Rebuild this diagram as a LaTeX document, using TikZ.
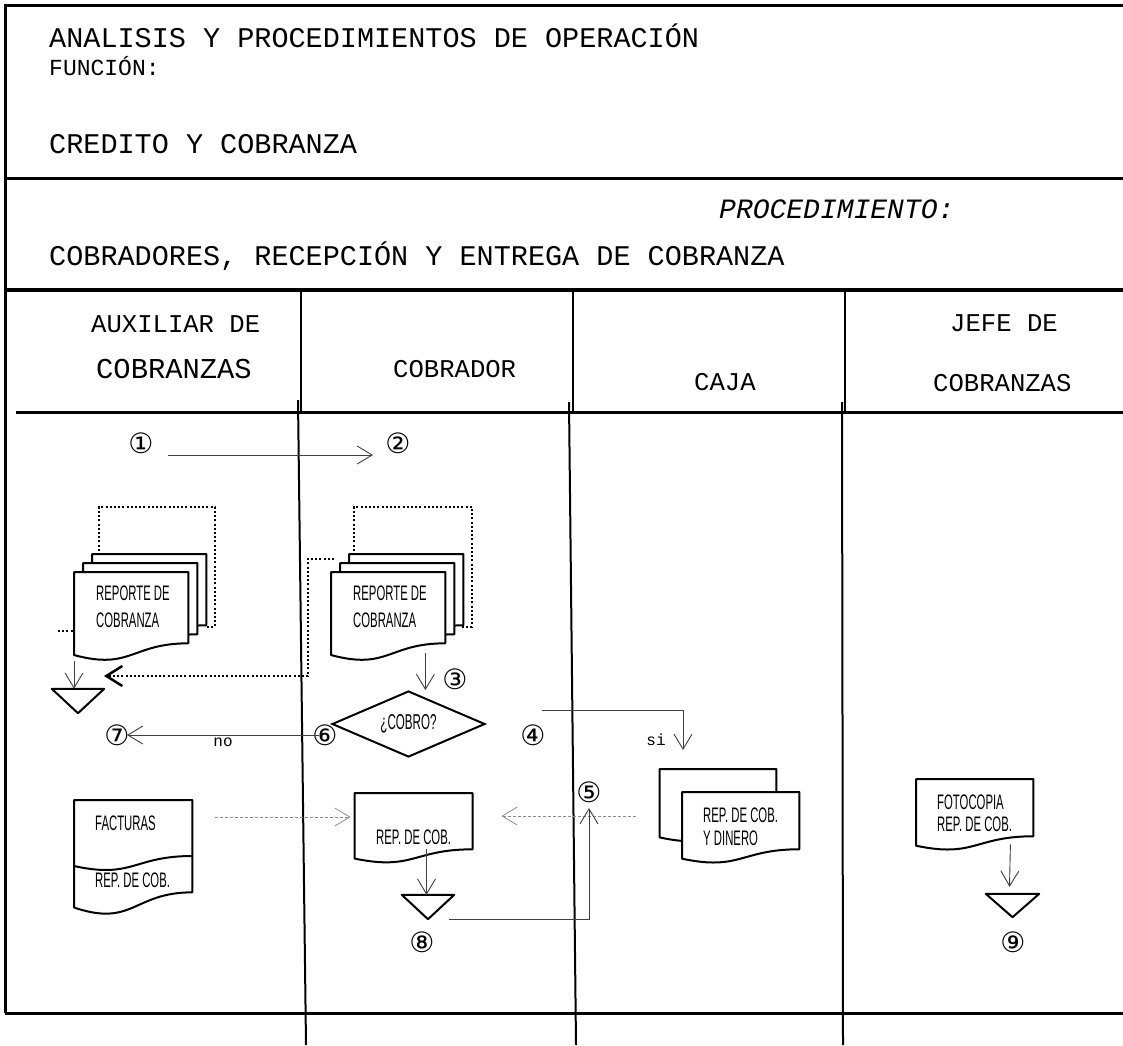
\documentclass[tikz,border=0pt]{standalone}
\usepackage{fontspec}
\usetikzlibrary{arrows.meta}
\usetikzlibrary{calc}
\usetikzlibrary{positioning}
\usetikzlibrary{shapes.geometric}
\newfontfamily\monofont{Liberation Mono}
\newfontfamily\narrowfont[FakeStretch=0.54]{Liberation Sans}
\newfontfamily\circfont{DejaVu Sans}
\tikzset{frameline/.style = {line width = 3pt}}
\tikzset{laneline/.style = {line width = 2pt}}
\tikzset{docbox/.style = {rectangle, inner sep = 0pt}}
\tikzset{docline/.style = {line width = 2pt, fill = white, line join = round}}
\tikzset{dotline/.style = {line width = 2pt, dash pattern = on 2pt off 2.2pt}}
\tikzset{doctxt/.style = {inner sep = 0pt, align = left, font = \narrowfont\fontsize{21}{27}\selectfont}}
\tikzset{headtxt/.style = {inner sep = 0pt, anchor = base west, font = \monofont\fontsize{28.5}{34}\selectfont}}
\tikzset{lanetxt/.style = {inner sep = 0pt, anchor = base west, font = \monofont\fontsize{25.6}{30}\selectfont}}
\tikzset{lbltxt/.style = {inner sep = 0pt, font = \monofont\fontsize{16}{18}\selectfont}}
\tikzset{circnum/.style = {inner sep = 1pt, font = \circfont\fontsize{28}{28}\selectfont}}
\tikzset{flowarrow/.style = {draw = black!75, line width = 0.9pt, -{Straight Barb[length = 15pt, width = 18pt]}}}
\tikzset{dasharrow/.style = {draw = black!45, line width = 0.8pt, dash pattern = on 3pt off 2pt, -{Straight Barb[length = 15pt, width = 18pt]}}}
\tikzset{backarrow/.style = {dotline, -{Straight Barb[length = 16pt, width = 20pt, line width = 2.5pt]}}}
\newcommand{\docshape}[1]{%
  \draw[docline] (#1.north west) -- (#1.north east)
    -- ($(#1.north east)!0.802!(#1.south east)$)
    .. controls ($(#1.north)!0.802!(#1.south)$) and ($(#1.north)!1.1075!(#1.south)$)
    .. ($(#1.north west)!0.934!(#1.south west)$) -- cycle;}
\newcommand{\filetri}[1]{%
  \draw[docline] (#1.north west) -- (#1.north east) -- (#1.south) -- cycle;}

\begin{document}
\begin{tikzpicture}[x = 1pt, y = -1pt]
    \useasboundingbox (0, 0) rectangle (1123, 1045);

    % frame and lanes
    \draw[frameline] (5, 5) -- (1123, 5);
    \draw[frameline] (5, 3.5) -- (5, 1013);
    \draw[frameline] (5, 178) -- (1123, 178);
    \draw[frameline, line width = 3.5pt] (5, 290) -- (1123, 290);
    \draw[frameline] (16, 412) -- (1123, 412);
    \draw[frameline] (5, 1013) -- (1123, 1013);
    \foreach \x in {301, 573, 845}
        \draw[laneline] (\x, 290) -- (\x, 412);
    \draw[laneline] (298, 400) -- (306, 1045);
    \draw[laneline] (569, 402) -- (576, 1045);
    \draw[laneline] (842, 402) -- (843, 1045);

    % headings
    \node[headtxt] (title) at (49, 47) {ANALISIS Y PROCEDIMIENTOS DE OPERACIÓN};
    \node[headtxt, font = \monofont\fontsize{23}{26}\selectfont] (func) at (49, 75) {FUNCIÓN:};
    \node[headtxt] (area) at (49, 153) {CREDITO Y COBRANZA};
    \node[headtxt, font = \monofont\itshape\fontsize{28}{34}\selectfont] (proc) at (719, 218) {PROCEDIMIENTO:};
    \node[headtxt] (procname) at (49, 265) {COBRADORES, RECEPCIÓN Y ENTREGA DE COBRANZA};

    \node[lanetxt] (aux) at (91, 332) {AUXILIAR DE};
    \node[lanetxt, font = \monofont\fontsize{28.8}{32}\selectfont] (auxb) at (96, 378) {COBRANZAS};
    \node[lanetxt] (cobr) at (393, 377) {COBRADOR};
    \node[lanetxt] (caja) at (694, 390) {CAJA};
    \node[lanetxt] (jefe) at (950, 331) {JEFE DE};
    \node[lanetxt] (jefeb) at (933, 391) {COBRANZAS};

    % dotted back frames of the report stacks
    \draw[dotline] (99, 555) |- (215, 507) |- (205, 627);
    \draw[dotline] (354, 555) |- (472, 507) |- (462, 627);

    % report stacks
    \node[docbox, anchor = north west, minimum width = 114pt, minimum height = 88.5pt] (aux3) at (92, 554) {};
    \node[docbox, anchor = north west, minimum width = 114pt, minimum height = 88.5pt] (aux2) at (83, 563) {};
    \node[docbox, anchor = north west, minimum width = 114pt, minimum height = 88.5pt] (aux1) at (74, 572) {};
    \docshape{aux3}
    \docshape{aux2}
    \docshape{aux1}
    \node[doctxt, below right = 14pt and 22pt of aux1.north west] (aux1txt) {REPORTE DE\\COBRANZA};

    \node[docbox, anchor = north west, minimum width = 114pt, minimum height = 88.5pt] (cob3) at (349, 554) {};
    \node[docbox, anchor = north west, minimum width = 114pt, minimum height = 88.5pt] (cob2) at (340, 563) {};
    \node[docbox, anchor = north west, minimum width = 114pt, minimum height = 88.5pt] (cob1) at (331, 572) {};
    \docshape{cob3}
    \docshape{cob2}
    \docshape{cob1}
    \node[doctxt, below right = 14pt and 22pt of cob1.north west] (cob1txt) {REPORTE DE\\COBRANZA};

    % lower documents
    \node[docbox, anchor = north west, minimum width = 118pt, minimum height = 114.7pt] (fac) at (74, 800) {};
    \docshape{fac}
    \draw[line width = 2pt] ($(fac.north east) + (0, 56)$) .. controls ($(fac.north) + (0, 56)$) and ($(fac.north) + (0, 79)$) .. ($(fac.north west) + (0, 66)$);
    \node[doctxt, below right = 16pt and 21pt of fac.north west] (factxt) {FACTURAS};
    \node[doctxt, below right = 73pt and 21pt of fac.north west] (factxtb) {REP. DE COB.};

    \node[docbox, anchor = north west, minimum width = 117.5pt, minimum height = 69.8pt] (rep) at (354.6, 793) {};
    \docshape{rep}
    \node[doctxt, below right = 37pt and 21.4pt of rep.north west] (reptxt) {REP. DE COB.};

    \node[docbox, anchor = north west, minimum width = 116.5pt, minimum height = 72.8pt] (cajab) at (659.5, 769) {};
    \node[docbox, anchor = north west, minimum width = 117pt, minimum height = 71pt] (cajaf) at (682, 792) {};
    \docshape{cajab}
    \docshape{cajaf}
    \node[doctxt, font = \narrowfont\fontsize{21}{23}\selectfont, below right = 16pt and 21pt of cajaf.north west] (cajatxt) {REP. DE COB.\\Y DINERO};

    \node[docbox, anchor = north west, minimum width = 117pt, minimum height = 71pt] (foto) at (916, 779) {};
    \docshape{foto}
    \node[doctxt, font = \narrowfont\fontsize{21}{22}\selectfont, below right = 16pt and 21pt of foto.north west] (fototxt) {FOTOCOPIA\\REP. DE COB.};

    % files
    \node[docbox, minimum width = 52pt, minimum height = 24pt] (tri7) at (78, 701) {};
    \node[docbox, minimum width = 52pt, minimum height = 24pt] (tri8) at (428, 907) {};
    \node[docbox, minimum width = 53pt, minimum height = 23pt] (tri9) at (1012.5, 905.5) {};
    \filetri{tri7}
    \filetri{tri8}
    \filetri{tri9}

    % decision
    \node[diamond, draw, line width = 2pt, aspect = 2.3, inner sep = 0pt, minimum width = 153pt, minimum height = 66pt, font = \narrowfont\fontsize{21.5}{22}\selectfont] (cobro) at (408.5, 724) {¿COBRO?};

    % step numbers
    \node[circnum] (n1) at (141, 443) {①};
    \node[circnum] (n2) at (398, 443) {②};
    \node[circnum] (n3) at (455, 679) {③};
    \node[circnum] (n4) at (533, 735) {④};
    \node[circnum] (n5) at (589, 792) {⑤};
    \node[circnum] (n6) at (325, 735) {⑥};
    \node[circnum] (n7) at (117, 735) {⑦};
    \node[circnum] (n8) at (422, 942) {⑧};
    \node[circnum] (n9) at (1013, 942) {⑨};
    \node[lbltxt] (si) at (656, 740) {si};

    % connectors
    \coordinate (s1) at (168, 455);
    \coordinate (s2) at (373, 455);
    \coordinate (c4) at (542, 710);
    \coordinate (siend) at (683, 750);
    \coordinate (ret) at (104, 676);
    \draw[flowarrow] (s1) -- (s2);
    \draw[flowarrow] (aux1.south west) -- (aux1.south west |- tri7.north);
    \draw[backarrow] ([xshift = -6pt, yshift = 4pt]cob2.north west) -- ++(-26, 0) |- (ret);
    \draw[dotline] ([xshift = -16pt, yshift = -15pt]aux1.west) -- ([yshift = -15pt]aux1.west);
    \draw[flowarrow] ([xshift = -20pt, yshift = 8pt]cob1.south east) -- ([xshift = -20pt]cob1.south east |- cobro.north);
    \draw[flowarrow] ([xshift = -6pt]n6.center) -- ([xshift = 10pt]n7.center) node[lbltxt, midway, below = 2pt] {no};
    \draw[flowarrow] (c4) -| (siend);
    \draw[dasharrow] ([xshift = 23pt, yshift = -17pt]fac.north east) -- ([xshift = -4pt, yshift = -24pt]rep.north west);
    \draw[dasharrow] ([xshift = -46pt, yshift = -24pt]cajaf.north west) -- ([xshift = 29pt, yshift = -23pt]rep.north east);
    \draw[flowarrow] ([xshift = -46pt, yshift = 14pt]rep.south east) -- ([xshift = -46pt]rep.south east |- tri8.north);
    \draw[flowarrow] ([xshift = 21pt]tri8.south) -| ([yshift = -16pt]n5.center);
    \draw[flowarrow] ([xshift = -23pt, yshift = 6pt]foto.south east) -- ([xshift = -3pt, yshift = 7pt]tri9.north);
\end{tikzpicture}
\end{document}
